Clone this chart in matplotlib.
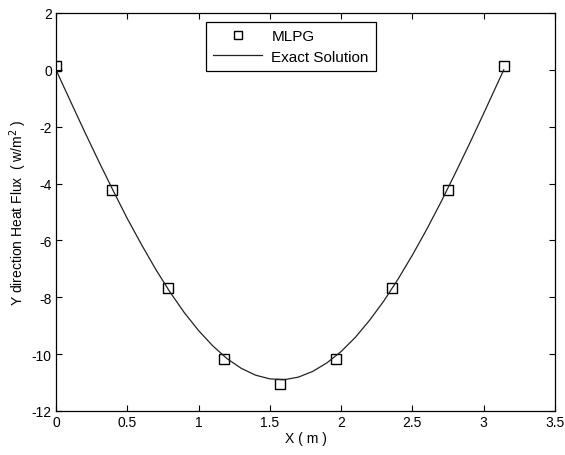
import numpy as np
import matplotlib
matplotlib.use("Agg")
import matplotlib.pyplot as plt

plt.rcParams['font.family'] = ['Liberation Sans', 'DejaVu Sans']
plt.rcParams['axes.unicode_minus'] = False

# MLPG 节点值
mlpg_x = [0.0, 0.3927, 0.7854, 1.1781, 1.5708, 1.9635, 2.3562, 2.7489, 3.1416]
mlpg_y = [0.12, -4.24, -7.67, -10.18, -11.05, -10.18, -7.67, -4.24, 0.12]

# 精确解
exact_x = [0.0, 0.1, 0.2, 0.3, 0.4, 0.5, 0.6, 0.7, 0.8, 0.9, 1.0, 1.1, 1.2,
           1.3, 1.4, 1.5, 1.6, 1.7, 1.8, 1.9, 2.0, 2.1, 2.2, 2.3, 2.4, 2.5,
           2.6, 2.7, 2.8, 2.9, 3.0, 3.1, 3.1416]
exact_y = [0.0, -1.09, -2.17, -3.22, -4.24, -5.23, -6.15, -7.02, -7.82, -8.54,
           -9.17, -9.71, -10.16, -10.50, -10.74, -10.87, -10.90, -10.81, -10.61,
           -10.31, -9.91, -9.41, -8.81, -8.13, -7.36, -6.52, -5.62, -4.66,
           -3.65, -2.61, -1.54, -0.45, 0.0]

fig = plt.figure(figsize=(5.65, 4.56), dpi=100)
ax = fig.add_axes([0.0991, 0.0965, 0.883, 0.873])

ax.plot(mlpg_x, mlpg_y, linestyle='none', marker='s', markersize=7,
        markerfacecolor='none', markeredgecolor='black', markeredgewidth=1.0,
        label='MLPG')
ax.plot(exact_x, exact_y, color='#222222', linewidth=0.9, label='Exact Solution')

ax.set_xlim(0, 3.5)
ax.set_ylim(-12, 2)
ax.set_xticks(np.arange(0, 3.51, 0.5))
ax.set_xticklabels(['0', '0.5', '1', '1.5', '2', '2.5', '3', '3.5'])
ax.set_yticks(np.arange(-12, 2.1, 2))
ax.tick_params(direction='in', top=True, right=True, length=4, width=0.8,
               labelsize=10, pad=3)
for s in ax.spines.values():
    s.set_linewidth(0.9)

ax.set_xlabel('X ( m )', fontsize=10, labelpad=1)
ax.set_ylabel('Y direction Heat Flux  ( w/m$^2$ )', fontsize=10, labelpad=2)

leg = ax.legend(loc='upper center', bbox_to_anchor=(0.471, 0.977), fontsize=11,
                fancybox=False, edgecolor='black', framealpha=1,
                handlelength=3.2, handletextpad=0.6, borderpad=0.45,
                labelspacing=0.45, borderaxespad=0, markerscale=0.8)
leg.get_frame().set_linewidth(0.9)

fig.savefig('out.png', dpi=100)
